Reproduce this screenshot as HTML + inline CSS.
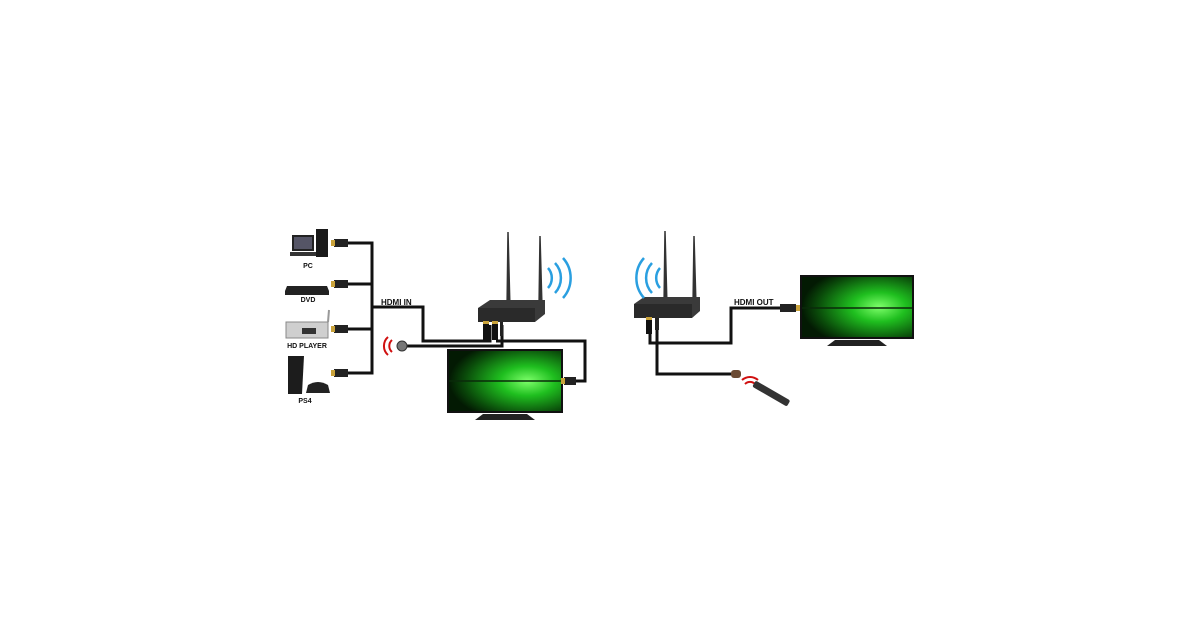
<!DOCTYPE html>
<html><head><style>
html,body{margin:0;padding:0;background:#fff;}
svg{display:block}
text{font-family:"Liberation Sans",sans-serif;font-weight:bold;fill:#111}
</style></head><body>
<svg width="1200" height="630" viewBox="0 0 1200 630">
<defs>
<radialGradient id="g1" cx="0.7" cy="0.5" r="0.7">
<stop offset="0" stop-color="#7dff6a"/><stop offset="0.35" stop-color="#1fbf1f"/><stop offset="0.8" stop-color="#0a4a0a"/><stop offset="1" stop-color="#031a03"/>
</radialGradient>
</defs>
<g fill="none" stroke="#111" stroke-width="3">
<path d="M336 243H372V373H336M336 284H372M336 329H372M372 307H423V341H490V325"/>
<path d="M404 346H502V325"/>
<path d="M496 341H585V381H568"/>
<path d="M650 325V343H731V308H782"/>
<path d="M657 325V374H731"/>
</g>
<g fill="#222"><rect x="334" y="239" width="14" height="8"/><rect x="334" y="280" width="14" height="8"/><rect x="334" y="325" width="14" height="8"/><rect x="334" y="369" width="14" height="8"/></g>
<g fill="#c9a23a"><rect x="331" y="240" width="4" height="6"/><rect x="331" y="281" width="4" height="6"/><rect x="331" y="326" width="4" height="6"/><rect x="331" y="370" width="4" height="6"/></g>
<rect x="292" y="235" width="22" height="16" fill="#222"/><rect x="294" y="237" width="18" height="12" fill="#556"/>
<rect x="290" y="252" width="26" height="4" fill="#333"/><rect x="316" y="229" width="12" height="28" fill="#1a1a1a"/>
<text x="308" y="268" font-size="7" text-anchor="middle">PC</text>
<path d="M287 286h40l2 5v4h-44v-4z" fill="#222"/>
<text x="308" y="302" font-size="7" text-anchor="middle">DVD</text>
<rect x="286" y="322" width="42" height="16" fill="#cfcfcf" stroke="#888"/><rect x="302" y="328" width="14" height="6" fill="#333"/><line x1="328" y1="322" x2="329" y2="310" stroke="#999" stroke-width="2"/>
<text x="307" y="348" font-size="7" text-anchor="middle">HD PLAYER</text>
<path d="M288 356h16l-2 38h-14z" fill="#1c1c1c"/><path d="M308 385q10-6 20 0l2 8h-24z" fill="#222"/>
<text x="305" y="403" font-size="7" text-anchor="middle">PS4</text>
<text x="381" y="305" font-size="8">HDMI IN</text>
<circle cx="402" cy="346" r="5" fill="#777" stroke="#333"/>
<path d="M392 340a8 8 0 0 0 0 12M388 337a12 12 0 0 0 0 18" stroke="#d01010" stroke-width="2" fill="none"/>
<path d="M507 310L508 232L510 310z" fill="#333" stroke="#333" stroke-width="1.5"/><path d="M539 308L540 236L542 308z" fill="#333" stroke="#333" stroke-width="1.5"/>
<path d="M478 308l12-8h55l0 14-10 8h-57z" fill="#3a3a3a"/><rect x="478" y="308" width="57" height="14" fill="#2a2a2a"/>
<rect x="483" y="322" width="6" height="18" fill="#111"/><rect x="492" y="322" width="6" height="18" fill="#111"/><rect x="500" y="322" width="3" height="14" fill="#222"/>
<rect x="483" y="321" width="6" height="3" fill="#c9a23a"/><rect x="492" y="321" width="6" height="3" fill="#c9a23a"/>
<g fill="none" stroke="#2a9fe0" stroke-width="2.5"><path d="M548 268a15 15 0 0 1 0 20"/><path d="M555 263a22 22 0 0 1 0 30"/><path d="M563 258a30 30 0 0 1 0 40"/></g>
<rect x="447" y="349" width="116" height="64" fill="#111"/><rect x="449" y="351" width="112" height="60" fill="url(#g1)"/>
<line x1="449" y1="381" x2="561" y2="381" stroke="#0a2a0a" stroke-width="1.5"/>
<path d="M475 420l8-6h44l8 6z" fill="#222"/>
<rect x="564" y="377" width="12" height="8" fill="#222"/><rect x="561" y="378" width="4" height="6" fill="#c9a23a"/>
<path d="M664 307L665 231L667 307z" fill="#333" stroke="#333" stroke-width="1.5"/><path d="M693 306L694 236L696 306z" fill="#333" stroke="#333" stroke-width="1.5"/>
<path d="M634 304l10-7h56v14l-8 7h-58z" fill="#3a3a3a"/><rect x="634" y="304" width="58" height="14" fill="#2a2a2a"/>
<rect x="646" y="318" width="6" height="16" fill="#111"/><rect x="655" y="318" width="4" height="12" fill="#222"/><rect x="646" y="317" width="6" height="3" fill="#c9a23a"/>
<g fill="none" stroke="#2a9fe0" stroke-width="2.5"><path d="M660 268a15 15 0 0 0 0 20"/><path d="M652 263a22 22 0 0 0 0 30"/><path d="M644 258a30 30 0 0 0 0 40"/></g>
<text x="734" y="305" font-size="8">HDMI OUT</text>
<rect x="780" y="304" width="16" height="8" fill="#222"/><rect x="796" y="305" width="4" height="6" fill="#c9a23a"/>
<rect x="800" y="275" width="114" height="64" fill="#111"/><rect x="802" y="277" width="110" height="60" fill="url(#g1)"/>
<line x1="802" y1="308" x2="912" y2="308" stroke="#0a2a0a" stroke-width="1.5"/>
<path d="M827 346l8-6h44l8 6z" fill="#222"/>
<rect x="731" y="370" width="10" height="8" rx="3" fill="#6b4a33"/>
<path d="M745 384a7 7 0 0 1 10 0M742 380a12 12 0 0 1 16 0" stroke="#d01010" stroke-width="2" fill="none"/>
<rect x="751" y="390" width="40" height="7" rx="2" fill="#333" transform="rotate(30 771 394)"/>
</svg>
</body></html>
